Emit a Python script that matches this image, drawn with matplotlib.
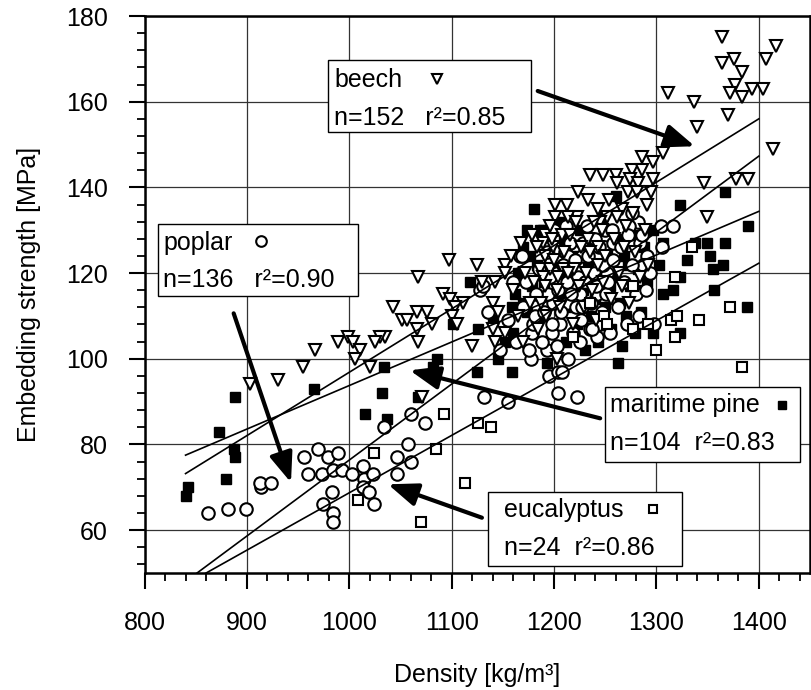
import matplotlib
matplotlib.use("Agg")
import matplotlib.pyplot as plt
from matplotlib.patches import Rectangle
from matplotlib.ticker import MultipleLocator

plt.rcParams["font.family"] = ["Liberation Sans", "DejaVu Sans"]
plt.rcParams["font.size"] = 18

# values
beech_x = [1364, 1417, 1364, 1376, 1384, 1407, 1377, 1372, 1384, 1393, 1404, 1370,
           1311, 1337, 1340, 1414, 1306, 1297, 1286, 1346, 1378, 1389, 1349, 1291,
           1235, 1248, 1260, 1276, 1286, 1297, 1261, 1274, 1282, 1223, 1272, 1281,
           1201, 1213, 1233, 1243, 1266, 1277, 1222, 1252, 1201, 1214, 1261, 1245,
           1221, 1247, 1191, 1208, 1233, 1268, 1199, 1243, 1186, 1196, 1209, 1219,
           1243, 1235, 1189, 1204, 1214, 1191, 1203, 1067, 1097, 1125, 1152, 1158,
           1152, 1091, 1098, 1130, 1142, 1178, 1189, 1198, 1183, 1191, 1111, 1103,
           1100, 1105, 1043, 1051, 1056, 1066, 1076, 1081, 1066, 1067, 1035, 1030,
           1120, 1140, 1145, 1140, 1152, 1142, 1170, 1071, 1203, 903, 930, 955,
           966, 989, 999, 1004, 1010, 1006, 1025, 1020,
           1160, 1165, 1168, 1172, 1176, 1180, 1184, 1187, 1192, 1196, 1200, 1206,
           1210, 1216, 1218, 1224, 1226, 1229, 1231, 1237, 1239, 1241, 1248, 1250,
           1254, 1256, 1259, 1263, 1266, 1270, 1273, 1279, 1284, 1289, 1292, 1295]
beech_y = [175, 173, 169, 170, 167, 170, 164, 162, 161, 163, 163, 157,
           162, 160, 154, 149, 148, 146, 147, 141, 142, 142, 133, 136,
           143, 143, 143, 144, 144, 142, 141, 142, 141, 139, 139, 139,
           136, 136, 137, 135, 135, 134, 133, 133, 133, 133, 133, 132,
           132, 130, 129, 129, 128, 126, 126, 126, 121, 121, 121, 121,
           122, 125, 119, 119, 120, 117, 116, 119, 123, 122, 122, 124,
           120, 115, 114, 118, 118, 129, 127, 128, 126, 124, 113, 112,
           110, 108, 112, 109, 109, 111, 111, 108, 107, 104, 105, 105,
           103, 113, 111, 107, 106, 104, 104, 91, 100, 94, 95, 98,
           102, 104, 105, 104, 102, 100, 104, 98,
           116, 110, 127, 120, 113, 118, 107, 113, 110, 131, 123, 112,
           125, 129, 108, 117, 126, 112, 120, 116, 132, 109, 118, 124,
           137, 114, 128, 120, 117, 131, 113, 125, 119, 130, 122, 139]

poplar_x = [862, 881, 899, 914, 913, 923, 956, 969, 979, 989, 960, 973,
            984, 993, 1003, 1013, 1014, 1023, 1013, 1019, 983, 974, 984, 984,
            1024, 1034, 1047, 1047, 1057, 1060, 1060, 1074, 1147, 1132, 1155, 1177,
            1195, 1135, 1128, 1204, 1208, 1204, 1222, 1193, 1214, 1203, 1198, 1218,
            1206, 1198, 1178, 1179, 1181, 1199, 1213, 1194, 1204, 1221, 1225, 1242,
            1235, 1245, 1242, 1251, 1227, 1237, 1282, 1273, 1272, 1276, 1284, 1304,
            1316, 1291, 1287, 1250, 1250, 1257, 1258, 1232, 1240, 1228, 1216, 1211,
            1227, 1252, 1248, 1223, 1213, 1241, 1225, 1167, 1131, 1214, 1169, 1193,
            1203,
            1155, 1160, 1163, 1170, 1173, 1175, 1182, 1185, 1188, 1190, 1196, 1200,
            1207, 1209, 1212, 1217, 1220, 1226, 1230, 1233, 1236, 1239, 1244, 1247,
            1253, 1255, 1258, 1262, 1265, 1268, 1271, 1276, 1280, 1283, 1286, 1290,
            1294, 1298, 1305]
poplar_y = [64, 65, 65, 70, 71, 71, 77, 79, 77, 78, 73, 73,
            74, 74, 73, 75, 72, 73, 70, 69, 69, 66, 64, 62,
            66, 84, 77, 73, 80, 76, 87, 85, 102, 91, 90, 100,
            96, 111, 116, 97, 97, 92, 91, 102, 100, 103, 106, 106,
            108, 108, 106, 108, 110, 113, 113, 115, 116, 112, 104, 105,
            107, 108, 115, 115, 112, 107, 132, 131, 129, 134, 127, 131,
            131, 124, 122, 126, 130, 130, 127, 131, 128, 127, 127, 125,
            124, 120, 122, 119, 118, 117, 115, 124, 117, 124, 124, 125,
            120,
            109, 118, 104, 112, 118, 102, 115, 121, 104, 111, 119, 130,
            111, 122, 131, 115, 123, 109, 118, 124, 113, 120, 126, 111,
            118, 106, 123, 112, 126, 118, 108, 122, 115, 110, 129, 116,
            120, 108, 126]

pine_x = [840, 842, 873, 880, 887, 888, 888, 965, 1015, 1032, 1034, 1037,
          1067, 1082, 1086, 1101, 1118, 1125, 1126, 1140, 1159, 1159, 1160, 1162,
          1170, 1174, 1174, 1176, 1180, 1183, 1186, 1189, 1193, 1206, 1232, 1255,
          1260, 1272, 1281, 1291, 1297, 1297, 1302, 1306, 1306, 1316, 1323, 1323,
          1323, 1330, 1338, 1349, 1352, 1355, 1356, 1365, 1367, 1367, 1388, 1389,
          1165, 1170, 1178, 1185, 1190, 1195, 1198, 1200, 1205, 1210, 1212, 1215,
          1218, 1220, 1222, 1225, 1228, 1230, 1233, 1236, 1238, 1240, 1243, 1245,
          1247, 1250, 1252, 1256, 1258, 1262, 1264, 1266, 1268, 1270, 1274, 1276,
          1279, 1282, 1285, 1288, 1152, 1145, 1195, 1262]
pine_y = [68, 70, 83, 72, 79, 77, 91, 93, 87, 92, 98, 86,
          91, 98, 100, 108, 118, 97, 107, 109, 97, 112, 106, 115,
          113, 111, 130, 124, 135, 122, 130, 130, 99, 132, 119, 117,
          138, 122, 116, 118, 106, 130, 122, 127, 115, 116, 136, 119,
          106, 123, 127, 127, 124, 121, 116, 122, 127, 139, 112, 131,
          120, 126, 117, 110, 118, 125, 108, 121, 115, 128, 104, 119,
          112, 124, 108, 130, 116, 102, 122, 110, 127, 114, 104, 120,
          133, 112, 125, 107, 119, 128, 113, 103, 124, 110, 117, 129,
          106, 121, 111, 126, 104, 100, 102, 99]

euca_x = [1008, 1024, 1070, 1085, 1092, 1113, 1126, 1138, 1218, 1235, 1249, 1252,
          1277, 1277, 1292, 1300, 1314, 1318, 1318, 1320, 1335, 1342, 1372, 1384]
euca_y = [67, 78, 62, 79, 87, 71, 85, 84, 105, 113, 110, 108,
          107, 117, 108, 102, 109, 105, 119, 110, 126, 109, 112, 98]

# regression lines (density range of the fits)
fit_x = [840, 1400]
beech_fit = [73.2, 156.0]
poplar_fit = [48.0, 147.3]
pine_fit = [77.5, 134.4]
euca_fit = [47.3, 122.3]

names = ["beech", "poplar", "maritime pine", "eucalyptus"]
stats = ["n=152   r²=0.85", "n=136   r²=0.90", "n=104  r²=0.83", "n=24  r²=0.86"]

# arrow tail / head in data units
arrow_tail = [(1184, 162.5), (887, 110.6), (1245, 86.1), (1129.5, 62.9)]
arrow_head = [(1337.5, 149.6), (943, 71.1), (1059, 97.3), (1037.7, 70.7)]

styles = {
    "beech": dict(marker="v", ms=9.2, mfc="white", mec="black", mew=1.5),
    "poplar": dict(marker="o", ms=9.0, mfc="white", mec="black", mew=1.5),
    "maritime pine": dict(marker="s", ms=7.6, mfc="black", mec="black", mew=1.0),
    "eucalyptus": dict(marker="s", ms=7.4, mfc="white", mec="black", mew=1.5),
}

fig = plt.figure(figsize=(8.11, 6.90), dpi=100)
ax = fig.add_axes([0.1783, 0.1696, 0.8205, 0.8072])

ax.plot(pine_x, pine_y, ls="none", zorder=3, **styles["maritime pine"])
ax.plot(poplar_x, poplar_y, ls="none", zorder=3, **styles["poplar"])
ax.plot(beech_x, beech_y, ls="none", zorder=3, **styles["beech"])
ax.plot(euca_x, euca_y, ls="none", zorder=3, **styles["eucalyptus"])

for f in [beech_fit, poplar_fit, pine_fit, euca_fit]:
    ax.plot(fit_x, f, color="black", lw=1.2, zorder=4)

ax.set_xlim(800, 1450)
ax.set_ylim(50, 180)
ax.xaxis.set_major_locator(MultipleLocator(100))
ax.xaxis.set_minor_locator(MultipleLocator(20))
ax.yaxis.set_major_locator(MultipleLocator(20))
ax.yaxis.set_minor_locator(MultipleLocator(4))
ax.set_xticks(range(800, 1401, 100))
ax.grid(True, which="major", color="#333333", lw=0.9, zorder=0)
ax.set_axisbelow(True)
ax.tick_params(which="major", direction="out", length=11.5, width=1.5, labelsize=18)
ax.tick_params(which="minor", direction="out", length=5.8, width=1.3)
ax.tick_params(axis="x", which="major", pad=16)
ax.tick_params(axis="y", which="major", pad=15)
for s in ax.spines.values():
    s.set_linewidth(1.8)

ax.set_xlabel("Density [kg/m³]", fontsize=18)
ax.set_ylabel("Embedding strength [MPa]", fontsize=18)
ax.xaxis.set_label_coords(0.5, -0.162)
ax.yaxis.set_label_coords(-0.155, 0.5)

# label boxes, placed in reference pixel positions
AX_L, AX_R, AX_T, AX_B = 144.6, 810.0, 16.0, 573.0


def frac(px, py):
    return (px - AX_L) / (AX_R - AX_L), (AX_B - py) / (AX_B - AX_T)


boxes = [
    # box l, t, r, b / text x / row1 baseline / row2 baseline / marker x, y
    ((328, 60, 531, 132), 334, 87, 125, (437, 79)),
    ((158, 224, 358, 296), 163, 250, 287, (261, 241)),
    ((605, 387, 800, 462), 610, 412, 450, (782, 405)),
    ((488, 492, 682, 566), 504, 517, 555, (653, 509)),
]

for name, stat, (rect, tx, b1, b2, mpos) in zip(names, stats, boxes):
    x0, y1 = frac(rect[0], rect[1])
    x1, y0 = frac(rect[2], rect[3])
    ax.add_patch(Rectangle((x0, y0), x1 - x0, y1 - y0, transform=ax.transAxes,
                           fc="white", ec="black", lw=1.0, zorder=6, clip_on=False))
    ax.text(frac(tx, 0)[0], frac(0, b1)[1], name, transform=ax.transAxes,
            va="baseline", ha="left", fontsize=18, zorder=7)
    ax.text(frac(tx, 0)[0], frac(0, b2)[1], stat, transform=ax.transAxes,
            va="baseline", ha="left", fontsize=18, zorder=7)
    mx, my = frac(*mpos)
    st = dict(styles[name])
    st["ms"] = st["ms"] * 0.85
    ax.plot([mx], [my], transform=ax.transAxes, ls="none", zorder=7,
            clip_on=False, **st)

for tail, head in zip(arrow_tail, arrow_head):
    ax.annotate("", xy=head, xytext=tail,
                arrowprops=dict(arrowstyle="-|>,head_length=0.9,head_width=0.35",
                                lw=3, color="black", mutation_scale=20,
                                shrinkA=0, shrinkB=0),
                zorder=8)

fig.savefig("out.png", dpi=100)
